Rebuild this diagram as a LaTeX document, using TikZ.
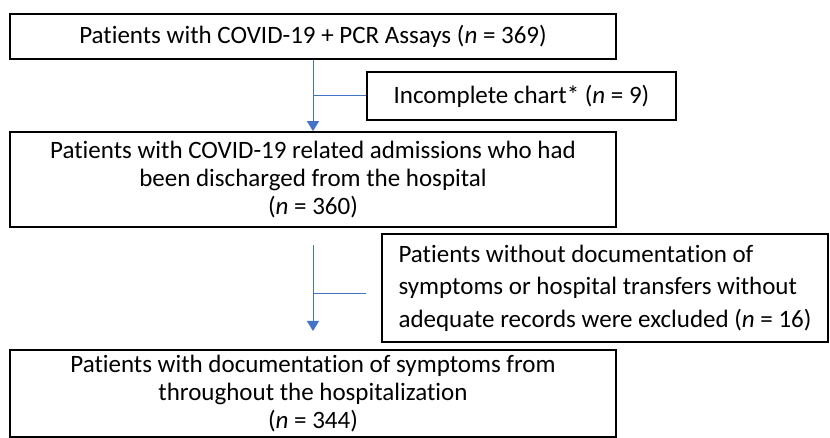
\documentclass[tikz,border=0pt]{standalone}
\usepackage{fontspec}
\setmainfont[Ligatures={NoCommon}]{Carlito}
\usetikzlibrary{arrows.meta}
\definecolor{arrowblue}{HTML}{4472C4}
\begin{document}
\begin{tikzpicture}[x=1pt,y=1pt,
  box/.style={draw=black,line width=1.7pt,rectangle,inner sep=0pt,font=\fontsize{25}{28}\selectfont,align=center},
  conn/.style={draw=arrowblue,line width=1pt},
  arr/.style={conn,-{Triangle[width=12pt,length=10pt]}}]
\useasboundingbox (0,0) rectangle (830,-438);
\node[box,minimum width=606,minimum height=45] (b1) at (313,-36.5) {Patients with COVID-19 + PCR Assays (\textit{n} = 369)};
\node[box,minimum width=309,minimum height=48] (b2) at (521.5,-96) {Incomplete chart* (\textit{n} = 9)};
\node[box,minimum width=606,minimum height=95] (b3) at (313,-179.5) {Patients with COVID-19 related admissions who had\\been discharged from the hospital\\(\textit{n} = 360)};
\node[box,minimum width=446,minimum height=108,align=left,font=\fontsize{25}{32.5}\selectfont] (b4) at (605,-288) {Patients without documentation of\\symptoms or hospital transfers without\\adequate records were excluded (\textit{n} = 16)};
\node[box,minimum width=606,minimum height=87] (b5) at (313,-393.5) {Patients with documentation of symptoms from\\throughout the hospitalization\\(\textit{n} = 344)};
\draw[arr] (b1.south) -- (b3.north);
\draw[conn] (b2.west) -- (b2.west -| b1.south);
\coordinate (s2) at (313,-245);
\coordinate (e2) at (313,-331);
\coordinate (j2) at (366,-294);
\draw[arr] (s2) -- (e2);
\draw[conn] (j2) -- (j2 -| s2);
\end{tikzpicture}
\end{document}
